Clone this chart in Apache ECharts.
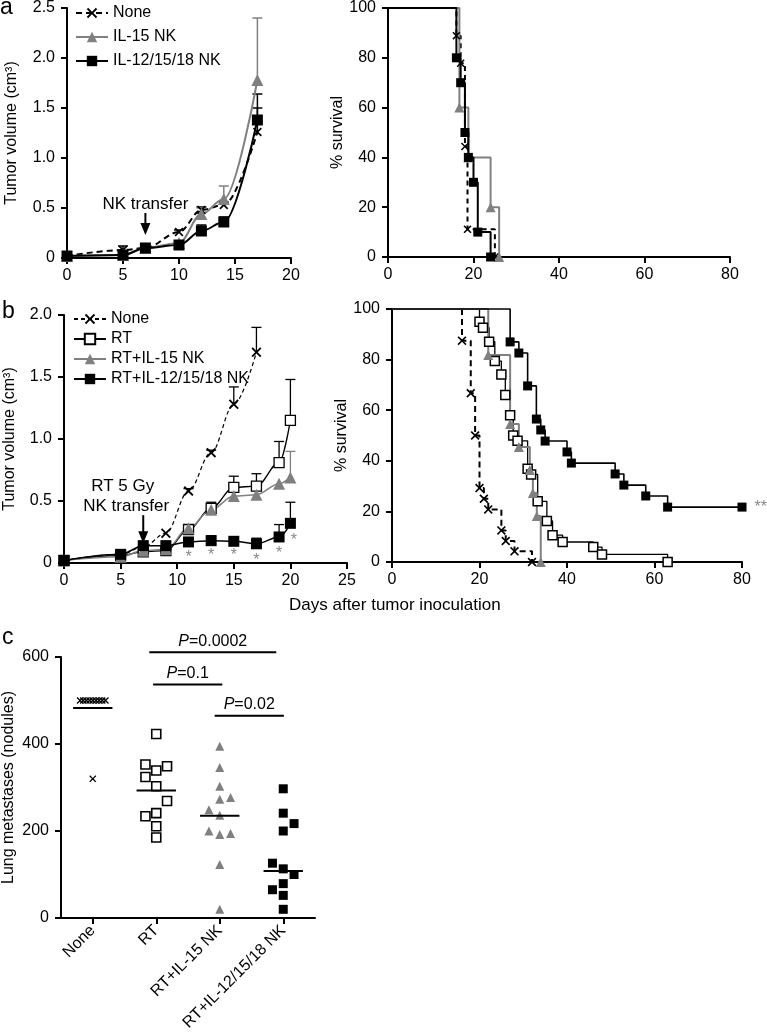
<!DOCTYPE html>
<html><head><meta charset="utf-8">
<script src="https://cdn.jsdelivr.net/npm/echarts@6/dist/echarts.min.js"></script>
<style>html,body{margin:0;padding:0;background:#fff}#c{width:767px;height:1036px}</style>
</head><body><div id="c"></div>
<script>
// ---------- Panel a : tumor volume ----------
const aDays = [0, 5, 7, 10, 12, 14, 17];
const aNone = [0.02, 0.08, 0.10, 0.26, 0.48, 0.53, 1.26];
const aNoneTop = [null, 0.12, null, 0.28, 0.51, 0.56, 1.50];
const aIL15 = [0.02, 0.03, 0.10, 0.15, 0.44, 0.59, 1.78];
const aIL15Top = [null, null, null, null, 0.50, 0.72, 2.40];
const aIL12 = [0.02, 0.03, 0.10, 0.13, 0.27, 0.36, 1.38];
const aIL12Top = [null, null, null, null, 0.33, 0.41, 1.64];
// ---------- Panel a : survival ----------
const aSNoneDay = [16, 17, 18, 18.6, 25];
const aSNone = [88.9, 77.8, 44.4, 11.1, 0];
const aSIL15Day = [16.7, 18.8, 24, 26];
const aSIL15 = [60, 40, 20, 0];
const aSIL12Day = [16, 17, 18, 18.8, 20, 21, 24];
const aSIL12 = [80, 70, 50, 40, 30, 10, 0];
// ---------- Panel b : tumor volume ----------
const bDays = [0, 5, 7, 9, 11, 13, 15, 17, 19, 20];
const bNone = [0.02, 0.07, 0.13, 0.24, 0.58, 0.89, 1.28, 1.70, null, null];
const bNoneTop = [null, null, null, null, 0.60, 0.91, 1.42, 1.90, null, null];
const bRT = [0.02, 0.06, 0.09, 0.10, 0.27, 0.44, 0.61, 0.62, 0.81, 1.15];
const bRTTop = [null, null, null, null, 0.30, 0.49, 0.70, 0.72, 0.98, 1.48];
const bIL15 = [0.02, 0.05, 0.10, 0.11, 0.28, 0.43, 0.54, 0.55, 0.64, 0.69];
const bIL15Top = [null, null, null, null, 0.30, 0.47, 0.57, 0.60, null, 0.90];
const bIL12 = [0.02, 0.07, 0.14, 0.14, 0.17, 0.18, 0.175, 0.155, 0.21, 0.32];
const bIL12Top = [null, null, null, null, 0.20, 0.22, 0.20, 0.20, 0.31, 0.49];
const starDays = [11, 13, 15, 17, 19, 20.3];
const starVals = [0.076, 0.089, 0.089, 0.054, 0.108, 0.21];
// ---------- Panel b : survival ----------
const bSNoneDay = [16, 18, 19, 20, 21, 22, 25, 26, 28, 32];
const bSNone = [87.5, 66.7, 50, 29.2, 25, 20.8, 12.5, 8.3, 4.2, 0];
const bSRTDay = [20, 20.8, 22.2, 23.5, 25, 25.9, 27, 27.7, 28.7, 31, 31.8, 33.3, 35.4, 36.7, 39, 46, 48, 63];
const bSRT = [95, 92.6, 87.1, 79.4, 74.1, 66, 58, 50, 47.9, 36.9, 34.6, 24, 16.2, 10.6, 7.9, 5.9, 3, 0];
const bSIL15Day = [22, 27, 29, 31.5, 32.2, 33.1, 34];
const bSIL15 = [81.8, 54.5, 45.5, 36.4, 27.3, 18.2, 0];
const bSIL12Day = [27, 29, 31, 33, 34, 35, 40, 41, 51, 53, 58, 63, 80];
const bSIL12 = [87, 82.6, 69.6, 56.5, 52.2, 47.8, 43.5, 39.1, 34.8, 30.4, 26.1, 21.7, 21.7];
// ---------- Panel c : lung metastases ----------
const cCats = ['None', 'RT', 'RT+IL-15 NK', 'RT+IL-12/15/18 NK'];
const cNone = [500, 500, 500, 500, 500, 500, 500, 500, 500, 320];
const cNoneJit = [-0.2, -0.15, -0.1, -0.05, 0, 0.05, 0.1, 0.15, 0.2, 0];
const cRT = [423, 353, 339, 349, 324, 303, 269, 234, 241, 211, 185];
const cRTJit = [0, -0.17, 0, 0.17, -0.17, 0, 0.17, -0.17, 0, 0, 0];
const cIL15 = [395, 346, 303, 277, 273, 249, 236, 200, 192, 194, 123, 20];
const cIL15Jit = [0, 0, 0, 0.17, 0, -0.17, 0, -0.17, 0, 0.17, 0, 0];
const cIL12 = [297, 241, 217, 200, 126, 113, 100, 79, 65, 52, 20];
const cIL12Jit = [0, 0, 0.17, 0, -0.17, 0, 0.17, 0, -0.17, 0, 0];
const cCenter = [483, 293, 235, 108];
const sigText = ['0.0002', '0.1', '0.02'];
const sigFrom = [0.89, 0.95, 1.92];
const sigTo = [2.89, 2.04, 3.01];
const sigLevel = [611, 537, 465];

const FONT = '"Liberation Sans", Arial, Helvetica, sans-serif';
const GRAY = '#808080';
const XSYM = 'path://M0,1.3L1.3,0L5,3.7L8.7,0L10,1.3L6.3,5L10,8.7L8.7,10L5,6.3L1.3,10L0,8.7L3.7,5Z';

function pairs(xs, ys) { const r = []; xs.forEach((x, i) => { if (ys[i] != null) r.push([x, ys[i]]); }); return r; }
const fmt1 = v => v === 0 ? '0' : v.toFixed(1);

function vAxis(gi, min, max, interval, extra) {
  const ax = {
    type: 'value', gridIndex: gi, min, max, interval,
    axisLine: { show: true, onZero: false, lineStyle: { color: '#000', width: 2 } },
    axisTick: { show: true, length: 6, lineStyle: { color: '#000', width: 2 } },
    axisLabel: { color: '#000', fontSize: 16, fontFamily: FONT, margin: 10 },
    splitLine: { show: false },
    nameTextStyle: { color: '#000', fontSize: 16, fontFamily: FONT }
  };
  if (extra) {
    if (extra.axisLabel) { Object.assign(ax.axisLabel, extra.axisLabel); delete extra.axisLabel; }
    Object.assign(ax, extra);
  }
  return ax;
}

function tumor(name, xi, days, vals, st) {
  return {
    type: 'line', name, xAxisIndex: xi, yAxisIndex: xi, data: pairs(days, vals),
    smooth: 0.35, smoothMonotone: 'x', clip: false, z: 3,
    symbol: st.symbol, symbolSize: st.size, showSymbol: true,
    lineStyle: { color: st.color, width: st.width, type: st.dash || 'solid' },
    itemStyle: { color: st.fill, borderColor: st.color, borderWidth: st.bw || 0 }
  };
}
function km(name, xi, days, vals, st) {
  const data = [{ value: [0, 100], symbol: 'none' }].concat(pairs(days, vals));
  return {
    type: 'line', name, xAxisIndex: xi, yAxisIndex: xi, step: 'end', data, clip: false, z: st.z || 3,
    symbol: st.symbol, symbolSize: st.size, showSymbol: true,
    lineStyle: { color: st.color, width: st.width, type: st.dash || 'solid' },
    itemStyle: { color: st.fill, borderColor: st.color, borderWidth: st.bw || 0 }
  };
}
function errBars(xi, days, vals, tops, color, lw) {
  const data = [];
  days.forEach((d, i) => { if (tops[i] != null && vals[i] != null) data.push([d, vals[i], tops[i]]); });
  return {
    type: 'custom', xAxisIndex: xi, yAxisIndex: xi, data, z: 1, silent: true, clip: false,
    encode: { x: 0, y: 1 },
    renderItem: (p, api) => {
      const a = api.coord([api.value(0), api.value(1)]);
      const b = api.coord([api.value(0), api.value(2)]);
      const s = { stroke: color, lineWidth: lw };
      return { type: 'group', children: [
        { type: 'line', shape: { x1: a[0], y1: a[1], x2: b[0], y2: b[1] }, style: s },
        { type: 'line', shape: { x1: b[0] - 5, y1: b[1], x2: b[0] + 5, y2: b[1] }, style: s }
      ] };
    }
  };
}
function arrow(xi, pos, shaft, lines) {
  return {
    type: 'custom', xAxisIndex: xi, yAxisIndex: xi, data: [pos], z: 5, silent: true, clip: false,
    renderItem: (p, api) => {
      const c = api.coord([api.value(0), api.value(1)]);
      const ch = [
        { type: 'line', shape: { x1: c[0], y1: c[1] - shaft, x2: c[0], y2: c[1] - 10 }, style: { stroke: '#000', lineWidth: 2 } },
        { type: 'polygon', shape: { points: [[c[0] - 5, c[1] - 12], [c[0] + 5, c[1] - 12], [c[0], c[1]]] }, style: { fill: '#000' } }
      ];
      lines.forEach(l => ch.push({ type: 'text', x: c[0] + l.dx, y: c[1] - shaft + l.dy,
        style: { text: l.t, fill: '#000', font: '17px ' + FONT, textAlign: l.align, textVerticalAlign: 'bottom', align: l.align, verticalAlign: 'bottom' } }));
      return { type: 'group', children: ch };
    }
  };
}
function dots(name, vals, jit, ci, st) {
  return {
    type: 'scatter', name, xAxisIndex: 5, yAxisIndex: 4, data: vals.map((v, i) => [ci + jit[i], v]),
    symbol: st.symbol, symbolSize: st.size, clip: false, z: 3,
    itemStyle: { color: st.fill, borderColor: st.color, borderWidth: st.bw || 0, opacity: 1 }
  };
}

const legendNames = { aNone: 'None', aIL15: 'IL-15 NK', aIL12: 'IL-12/15/18 NK',
  bNone: 'None', bRT: 'RT', bIL15: 'RT+IL-15 NK', bIL12: 'RT+IL-12/15/18 NK' };

const bIL12Surv = km('bsIL12', 3, bSIL12Day, bSIL12, { symbol: 'rect', size: 9, color: '#000', fill: '#000', width: 1.6 });
const last = bIL12Surv.data[bIL12Surv.data.length - 1];
bIL12Surv.data[bIL12Surv.data.length - 1] = { value: last,
  label: { show: true, formatter: '**', position: 'right', distance: 8, color: '#888', fontSize: 16, fontFamily: FONT } };

const option = {
  animation: false,
  backgroundColor: '#fff',
  textStyle: { fontFamily: FONT, color: '#000' },
  grid: [
    { left: 67, top: 7, width: 224, height: 251 },
    { left: 388, top: 7, width: 342, height: 250 },
    { left: 64, top: 315, width: 283, height: 248 },
    { left: 392, top: 309, width: 350, height: 253 },
    { left: 59, top: 657, width: 256, height: 261 }
  ],
  legend: [
    { data: ['aNone', 'aIL15', 'aIL12'], formatter: n => legendNames[n], left: 70, top: 0, orient: 'vertical',
      itemWidth: 32, itemHeight: 13, itemGap: 8, selectedMode: false,
      textStyle: { fontSize: 16, color: '#000', fontFamily: FONT } },
    { data: ['bNone', 'bRT', 'bIL15', 'bIL12'], formatter: n => legendNames[n], left: 68, top: 306, orient: 'vertical',
      itemWidth: 32, itemHeight: 13, itemGap: 4, selectedMode: false,
      textStyle: { fontSize: 16, color: '#000', fontFamily: FONT } }
  ],
  xAxis: [
    vAxis(0, 0, 20, 5),
    vAxis(1, 0, 80, 20),
    vAxis(2, 0, 25, 5),
    vAxis(3, 0, 80, 20),
    { type: 'category', gridIndex: 4, data: cCats, boundaryGap: true,
      axisLine: { show: true, lineStyle: { color: '#000', width: 2 } },
      axisTick: { show: true, alignWithLabel: true, length: 6, lineStyle: { color: '#000', width: 2 } },
      axisLabel: { rotate: 45, color: '#000', fontSize: 16, fontFamily: FONT, margin: 10 } },
    { type: 'value', gridIndex: 4, min: -0.5, max: 3.5, show: false, position: 'bottom' }
  ],
  yAxis: [
    vAxis(0, 0, 2.5, 0.5, { axisLabel: { formatter: fmt1, margin: 12 }, name: 'Tumor volume (cm³)', nameLocation: 'middle', nameGap: 47 }),
    vAxis(1, 0, 100, 20, { axisLabel: { margin: 12 }, name: '% survival', nameLocation: 'middle', nameGap: 39 }),
    vAxis(2, 0, 2.0, 0.5, { axisLabel: { formatter: fmt1, margin: 12 }, name: 'Tumor volume (cm³)', nameLocation: 'middle', nameGap: 46 }),
    vAxis(3, 0, 100, 20, { axisLabel: { margin: 12 }, name: '% survival', nameLocation: 'middle', nameGap: 41 }),
    vAxis(4, 0, 600, 200, { axisLabel: { margin: 12 }, name: 'Lung metastases (nodules)', nameLocation: 'middle', nameGap: 44 })
  ],
  series: [
    // panel a tumor
    errBars(0, aDays, aNone, aNoneTop, '#000', 1.5),
    errBars(0, aDays, aIL15, aIL15Top, GRAY, 1.5),
    errBars(0, aDays, aIL12, aIL12Top, '#000', 1.5),
    tumor('aNone', 0, aDays, aNone, { symbol: XSYM, size: 9, color: '#000', fill: '#000', width: 2, dash: [6, 4] }),
    tumor('aIL15', 0, aDays, aIL15, { symbol: 'triangle', size: 12, color: GRAY, fill: GRAY, width: 2 }),
    tumor('aIL12', 0, aDays, aIL12, { symbol: 'rect', size: 11, color: '#000', fill: '#000', width: 2 }),
    arrow(0, [7, 0.23], 22, [{ t: 'NK transfer', dx: 0, dy: 0, align: 'center' }]),
    // panel a survival
    km('asNone', 1, aSNoneDay, aSNone, { symbol: XSYM, size: 8, color: '#000', fill: '#000', width: 2, dash: [5, 4] }),
    km('asIL15', 1, aSIL15Day, aSIL15, { symbol: 'triangle', size: 10, color: GRAY, fill: GRAY, width: 2 }),
    km('asIL12', 1, aSIL12Day, aSIL12, { symbol: 'rect', size: 9, color: '#000', fill: '#000', width: 2 }),
    // panel b tumor
    errBars(2, bDays, bNone, bNoneTop, '#000', 1.3),
    errBars(2, bDays, bRT, bRTTop, '#000', 1.3),
    errBars(2, bDays, bIL15, bIL15Top, GRAY, 1.3),
    errBars(2, bDays, bIL12, bIL12Top, '#000', 1.3),
    tumor('bNone', 2, bDays, bNone, { symbol: XSYM, size: 10, color: '#000', fill: '#000', width: 1.2, dash: [4, 3] }),
    tumor('bRT', 2, bDays, bRT, { symbol: 'rect', size: 10, color: '#000', fill: '#fff', width: 1.3, bw: 1.3 }),
    tumor('bIL15', 2, bDays, bIL15, { symbol: 'triangle', size: 12, color: GRAY, fill: GRAY, width: 1.5 }),
    tumor('bIL12', 2, bDays, bIL12, { symbol: 'rect', size: 11, color: '#000', fill: '#000', width: 1.5 }),
    arrow(2, [7, 0.16], 28, [{ t: 'NK transfer', dx: -60, dy: 0, align: 'left' }, { t: 'RT 5 Gy', dx: -52, dy: -20, align: 'left' }]),
    { type: 'custom', xAxisIndex: 2, yAxisIndex: 2, data: pairs(starDays, starVals), silent: true, clip: false, z: 4,
      renderItem: (p, api) => {
        const c = api.coord([api.value(0), api.value(1)]);
        return { type: 'text', x: c[0], y: c[1] + 4, style: { text: '*', fill: '#888', font: '16px ' + FONT,
          textAlign: 'center', textVerticalAlign: 'middle', align: 'center', verticalAlign: 'middle' } };
      } },
    // panel b survival
    km('bsNone', 3, bSNoneDay, bSNone, { symbol: XSYM, size: 9, color: '#000', fill: '#000', width: 2, dash: [6, 4] }),
    km('bsRT', 3, bSRTDay, bSRT, { symbol: 'rect', size: 9, color: '#000', fill: '#fff', width: 1.3, bw: 1.5 }),
    km('bsIL15', 3, bSIL15Day, bSIL15, { symbol: 'triangle', size: 10, color: GRAY, fill: GRAY, width: 2 }),
    bIL12Surv,
    // panel c
    { type: 'custom', xAxisIndex: 5, yAxisIndex: 4, data: cCenter.map((v, i) => [i, v]), silent: true, clip: false, z: 4,
      renderItem: (p, api) => {
        const a = api.coord([api.value(0) - 0.31, api.value(1)]);
        const b = api.coord([api.value(0) + 0.31, api.value(1)]);
        return { type: 'line', shape: { x1: a[0], y1: a[1], x2: b[0], y2: b[1] }, style: { stroke: '#000', lineWidth: 2 } };
      } },
    dots('cNone', cNone, cNoneJit, 0, { symbol: XSYM, size: 7, color: '#000', fill: '#000' }),
    dots('cRT', cRT, cRTJit, 1, { symbol: 'rect', size: 9, color: '#000', fill: '#fff', bw: 1.6 }),
    dots('cIL15', cIL15, cIL15Jit, 2, { symbol: 'triangle', size: 9, color: GRAY, fill: GRAY }),
    dots('cIL12', cIL12, cIL12Jit, 3, { symbol: 'rect', size: 9, color: '#000', fill: '#000' }),
    { type: 'custom', xAxisIndex: 5, yAxisIndex: 4, data: sigFrom.map((f, i) => [f, sigLevel[i], sigTo[i], i]),
      silent: true, clip: false, z: 4, encode: { x: 0, y: 1 },
      renderItem: (p, api) => {
        const a = api.coord([api.value(0), api.value(1)]);
        const b = api.coord([api.value(2), api.value(1)]);
        const idx = api.value(3);
        return { type: 'group', children: [
          { type: 'line', shape: { x1: a[0], y1: a[1], x2: b[0], y2: b[1] }, style: { stroke: '#000', lineWidth: 2 } },
          { type: 'text', x: (a[0] + b[0]) / 2, y: a[1] - 3, style: {
            text: '{i|P}=' + sigText[idx], fill: '#000', font: '16px ' + FONT,
            rich: { i: { fontStyle: 'italic', fontSize: 16, fontFamily: FONT, fill: '#000', color: '#000' } },
            textAlign: 'center', textVerticalAlign: 'bottom', align: 'center', verticalAlign: 'bottom' } }
        ] };
      } }
  ],
  graphic: [
    { type: 'text', left: 0, top: -4, style: { text: 'a', font: '23px ' + FONT, fill: '#000' } },
    { type: 'text', left: 2, top: 300, style: { text: 'b', font: '23px ' + FONT, fill: '#000' } },
    { type: 'text', left: 2, top: 626, style: { text: 'c', font: '23px ' + FONT, fill: '#000' } },
    { type: 'text', left: 289, top: 597, style: { text: 'Days after tumor inoculation', font: '17px ' + FONT, fill: '#000' } }
  ]
};
const chart = echarts.init(document.getElementById('c'));
chart.setOption(option);
</script></body></html>
